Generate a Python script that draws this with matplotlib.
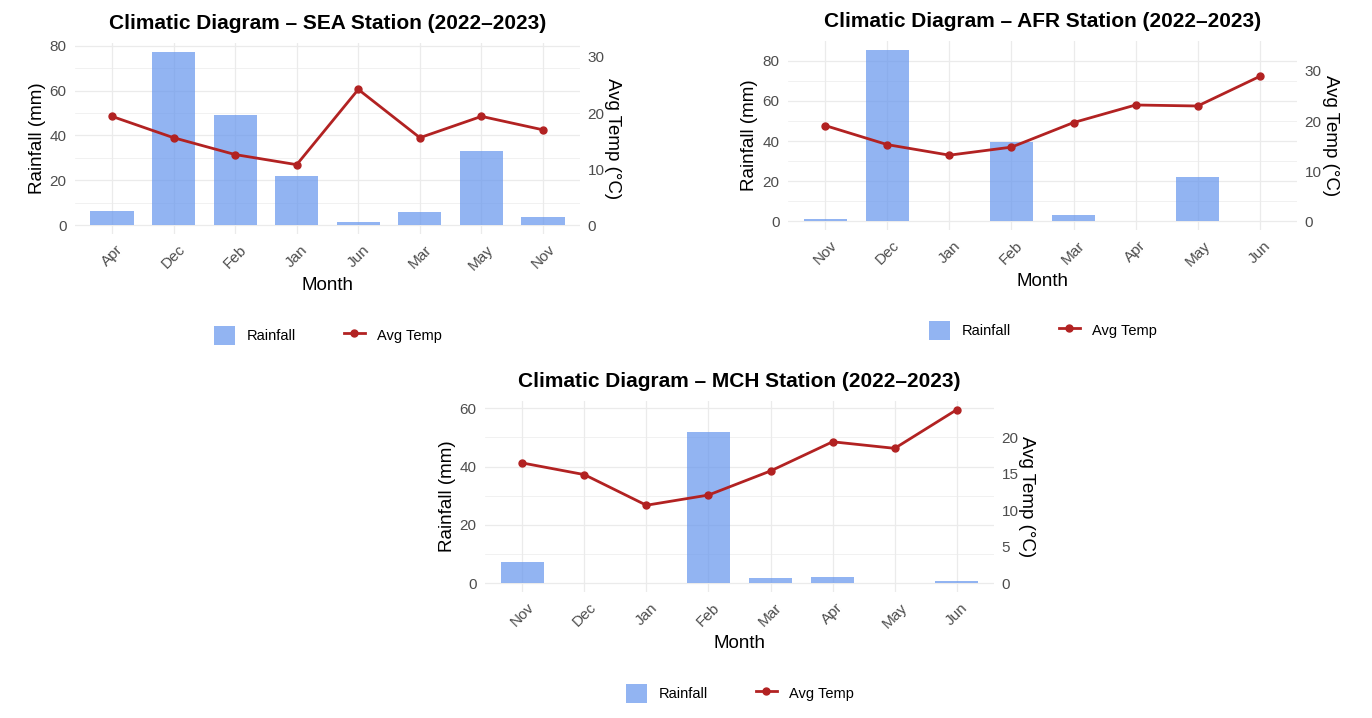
import numpy as np
import matplotlib
matplotlib.use('Agg')
import matplotlib.pyplot as plt
from matplotlib.patches import Patch
from matplotlib.lines import Line2D
from matplotlib.ticker import MultipleLocator

plt.rcParams['font.family'] = ['Liberation Sans', 'DejaVu Sans']

# 各測站資料
sea_months = ['Apr', 'Dec', 'Feb', 'Jan', 'Jun', 'Mar', 'May', 'Nov']
sea_rain = [6.2, 77.3, 49.1, 22.1, 1.5, 5.9, 33.1, 3.6]
sea_temp = [19.4, 15.6, 12.6, 10.8, 24.2, 15.6, 19.4, 17.0]

afr_months = ['Nov', 'Dec', 'Jan', 'Feb', 'Mar', 'Apr', 'May', 'Jun']
afr_rain = [1.2, 85.6, 0, 39.4, 3.1, 0, 22.0, 0]
afr_temp = [19.1, 15.3, 13.2, 14.8, 19.7, 23.2, 23.0, 28.9]

mch_months = ['Nov', 'Dec', 'Jan', 'Feb', 'Mar', 'Apr', 'May', 'Jun']
mch_rain = [7.4, 0, 0, 51.7, 1.9, 2.3, 0, 0.9]
mch_temp = [16.5, 14.9, 10.7, 12.1, 15.4, 19.4, 18.5, 23.8]

SCALE = 2.5  # 溫度 -> 雨量 的換算倍率 (第二軸)
W, H = 1372, 718
BAR_COLOR = 'cornflowerblue'
LINE_COLOR = '#B22222'
GRID_COLOR = '#EBEBEB'
TICK_COLOR = '#4D4D4D'


def draw_panel(fig, box, station, months, rain, temp, rain_step, temp_step):
    left, top, right, bottom = box  # 像素座標
    ax = fig.add_axes([left / W, 1 - bottom / H, (right - left) / W, (bottom - top) / H])
    ax_w = right - left
    ax_h = bottom - top

    x = np.arange(len(months))
    ax.bar(x, rain, width=0.7, color=BAR_COLOR, alpha=0.7, zorder=2)

    # y 範圍：和 ggplot 一樣上下各留 5%
    hi = max(max(rain), max(temp) * SCALE)
    ylim = (-0.05 * hi, hi * 1.05)
    ax.set_ylim(ylim)
    ax.set_xlim(-0.6, len(months) - 0.4)

    ax.yaxis.set_major_locator(MultipleLocator(rain_step))
    ax.yaxis.set_minor_locator(MultipleLocator(rain_step / 2))
    ax.grid(True, which='major', color=GRID_COLOR, lw=0.9, zorder=0)
    ax.grid(True, which='minor', axis='y', color=GRID_COLOR, lw=0.5, zorder=0)
    ax.set_axisbelow(True)

    ax.set_xticks(x)
    ax.set_xticklabels(months, rotation=45, ha='center', va='top')
    ax.tick_params(axis='both', which='both', length=0, labelsize=11, labelcolor=TICK_COLOR)
    ax.tick_params(axis='x', pad=6)
    ax.tick_params(axis='y', pad=6)
    for s in ax.spines.values():
        s.set_visible(False)

    # 第二軸：平均溫度
    ax2 = ax.twinx()
    ax2.set_ylim(ylim[0] / SCALE, ylim[1] / SCALE)
    ax2.plot(x, temp, color=LINE_COLOR, lw=2, marker='o', markersize=5, zorder=3)
    ax2.yaxis.set_major_locator(MultipleLocator(temp_step))
    ax2.tick_params(axis='y', length=0, labelsize=11, labelcolor=TICK_COLOR, pad=5.5)
    for s in ax2.spines.values():
        s.set_visible(False)

    ax.set_title(f'Climatic Diagram \u2013 {station} Station (2022\u20132023)',
                 fontsize=15, fontweight='bold', pad=10)
    ax.set_xlabel('Month', fontsize=13.5)
    ax.xaxis.set_label_coords(0.5, -51 / ax_h)
    ax.xaxis.label.set_va('center')
    ax.set_ylabel('Rainfall (mm)', fontsize=13.5)
    ax.yaxis.set_label_coords(-38 / ax_w, 0.5)
    ax.yaxis.label.set_va('center')
    ax2.set_ylabel('Avg Temp (°C)', fontsize=13.5, rotation=270)
    ax2.yaxis.set_label_coords(1 + 33 / ax_w, 0.5)
    ax2.yaxis.label.set_va('center')

    handles = [Patch(facecolor=BAR_COLOR, alpha=0.7, edgecolor='none', label='Rainfall'),
               Line2D([], [], color=LINE_COLOR, lw=2, marker='o', markersize=5, label='Avg Temp')]
    ax.legend(handles=handles, loc='center', bbox_to_anchor=(0.5, -0.53), ncol=2,
              frameon=False, fontsize=10.5, handlelength=1.45, handleheight=1.6,
              handletextpad=0.8, columnspacing=3.3)


fig = plt.figure(figsize=(W / 100, H / 100), dpi=100)

draw_panel(fig, (75, 43, 580, 234), 'SEA', sea_months, sea_rain, sea_temp, 20, 10)
draw_panel(fig, (788, 41, 1297, 230), 'AFR', afr_months, afr_rain, afr_temp, 20, 10)
draw_panel(fig, (485, 401, 994, 592), 'MCH', mch_months, mch_rain, mch_temp, 20, 5)

fig.savefig('out.png', dpi=100, facecolor='white')
